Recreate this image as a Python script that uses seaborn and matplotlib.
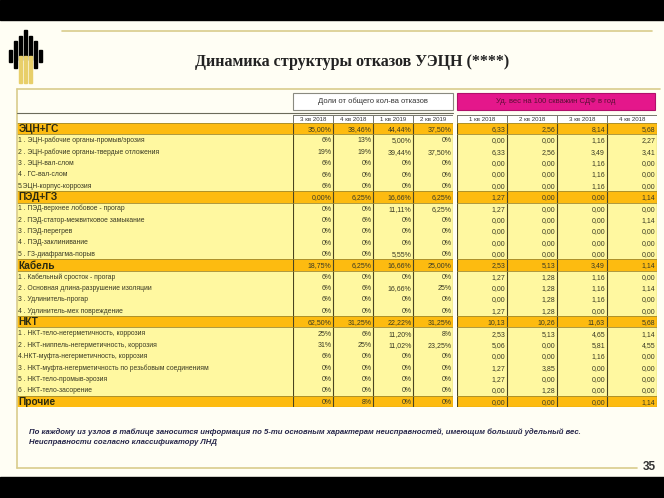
import numpy as np
import matplotlib.pyplot as plt
import seaborn as sns
from matplotlib.colors import ListedColormap
from matplotlib.patches import Rectangle

# --- table content ---
row_labels = [
    "ЭЦН+ГС",
    "1 . ЭЦН-рабочие органы-промыв/эрозия",
    "2 . ЭЦН-рабочие органы-твердые отложения",
    "3 . ЭЦН-вал-слом",
    "4 . ГС-вал-слом",
    "5.ЭЦН-корпус-коррозия",
    "ПЭД+ГЗ",
    "1 . ПЭД-верхнее лобовое - прогар",
    "2 . ПЭД-статор-межвитковое замыкание",
    "3 . ПЭД-перегрев",
    "4 . ПЭД-заклинивание",
    "5 . ГЗ-диафрагма-порыв",
    "Кабель",
    "1 . Кабельный сросток - прогар",
    "2 . Основная длина-разрушение изоляции",
    "3 . Удлинитель-прогар",
    "4 . Удлинитель-мех повреждение",
    "НКТ",
    "1 . НКТ-тело-негерметичность, коррозия",
    "2 . НКТ-ниппель-негерметичность, коррозия",
    "4.НКТ-муфта-негерметичность, коррозия",
    "3 . НКТ-муфта-негерметичность по резьбовым соединениям",
    "5 . НКТ-тело-промыв-эрозия",
    "6 . НКТ-тело-засорение",
    "Прочие",
]
# 1 = node (group) row, 0 = failure type row
row_kind = [1, 0, 0, 0, 0, 0, 1, 0, 0, 0, 0, 0, 1, 0, 0, 0, 0,
            1, 0, 0, 0, 0, 0, 0, 1]

share_quarters = ["3 кв 2018", "4 кв 2018", "1 кв 2019", "2 кв 2019"]
rate_quarters = ["1 кв 2018", "2 кв 2018", "3 кв 2018", "4 кв 2018"]

share_3q18 = ["35,00%", "6%", "19%", "6%", "6%", "6%",
              "0,00%", "0%", "0%", "0%", "0%", "0%",
              "18,75%", "6%", "6%", "6%", "0%",
              "62,50%", "25%", "31%", "6%", "0%", "0%", "0%", "0%"]
share_4q18 = ["38,46%", "13%", "19%", "0%", "0%", "0%",
              "6,25%", "0%", "6%", "0%", "0%", "0%",
              "6,25%", "0%", "6%", "0%", "0%",
              "31,25%", "6%", "25%", "0%", "0%", "0%", "0%", "8%"]
share_1q19 = ["44,44%", "5,00%", "39,44%", "0%", "0%", "0%",
              "16,66%", "11,11%", "0%", "0%", "0%", "5,55%",
              "16,66%", "0%", "16,66%", "0%", "0%",
              "22,22%", "11,20%", "11,02%", "0%", "0%", "0%", "0%", "0%"]
share_2q19 = ["37,50%", "0%", "37,50%", "0%", "0%", "0%",
              "6,25%", "6,25%", "0%", "0%", "0%", "0%",
              "25,00%", "0%", "25%", "0%", "0%",
              "31,25%", "8%", "23,25%", "0%", "0%", "0%", "0%", "0%"]

rate_1q18 = ["6,33", "0,00", "6,33", "0,00", "0,00", "0,00",
             "1,27", "1,27", "0,00", "0,00", "0,00", "0,00",
             "2,53", "1,27", "0,00", "0,00", "1,27",
             "10,13", "2,53", "5,06", "0,00", "1,27", "1,27", "0,00", "0,00"]
rate_2q18 = ["2,56", "0,00", "2,56", "0,00", "0,00", "0,00",
             "0,00", "0,00", "0,00", "0,00", "0,00", "0,00",
             "5,13", "1,28", "1,28", "1,28", "1,28",
             "10,26", "5,13", "0,00", "0,00", "3,85", "0,00", "1,28", "0,00"]
rate_3q18 = ["8,14", "1,16", "3,49", "1,16", "1,16", "1,16",
             "0,00", "0,00", "0,00", "0,00", "0,00", "0,00",
             "3,49", "1,16", "1,16", "1,16", "0,00",
             "11,63", "4,65", "5,81", "1,16", "0,00", "0,00", "0,00", "0,00"]
rate_4q18 = ["5,68", "2,27", "3,41", "0,00", "0,00", "0,00",
             "1,14", "0,00", "1,14", "0,00", "0,00", "0,00",
             "1,14", "0,00", "1,14", "0,00", "0,00",
             "5,68", "1,14", "4,55", "0,00", "0,00", "0,00", "0,00", "1,14"]

title = "Динамика структуры отказов УЭЦН (****)"
share_header = "Доли от общего кол-ва отказов"
rate_header = "Уд. вес на 100 скважин СДФ в год"
footnote = ("По каждому из узлов в таблице заносится информация по 5-ти основным "
            "характерам неисправностей, имеющим больший удельный вес.\n"
            "Неисправности согласно классификатору ЛНД")
page_no = "35"

# --- styling ---
W, H = 664, 498
cream = "#fffef4"
item_yellow = "#fff8a0"
group_orange = "#fdbb10"
tan = "#d9cc8c"
magenta = "#e4178b"
txt = "#3a3a24"
row_cmap = ListedColormap([item_yellow, group_orange])

sns.set_theme(style="white")
plt.rcParams["font.family"] = ["Liberation Sans", "DejaVu Sans"]

fig = plt.figure(figsize=(W / 100, H / 100), dpi=100, facecolor=cream)


def px_box(x0, y0, x1, y1):
    return [x0 / W, 1 - y1 / H, (x1 - x0) / W, (y1 - y0) / H]


def fx(x):
    return x / W


def fy(y):
    return 1 - y / H


# black letterbox bars
fig.patches.append(Rectangle((0, fy(20)), 1, 20 / H, transform=fig.transFigure,
                             color="black", zorder=-2))
fig.patches.append(Rectangle((0, 0), 1, (H - 477) / H, transform=fig.transFigure,
                             color="black", zorder=-2))

# title band line and frame
fig.add_artist(plt.Line2D([fx(62), fx(652)], [fy(31), fy(31)], color=tan, lw=1.2))
fig.add_artist(plt.Line2D([fx(17), fx(660)], [fy(89), fy(89)], color=tan, lw=1.2))
fig.add_artist(plt.Line2D([fx(17), fx(17)], [fy(89), fy(468)], color=tan, lw=1.2))
fig.add_artist(plt.Line2D([fx(17), fx(637)], [fy(468), fy(468)], color=tan, lw=1.2))
fig.add_artist(plt.Line2D([fx(17), fx(453)], [fy(113), fy(113)], color="#6b6b5a", lw=0.8))

# logo (simplified)
bar_x = [8.5, 13.5, 18.5, 23.5, 28.5, 33.5, 38.5]
bar_top = [50, 41, 36, 30, 36, 41, 50]
bar_bot = [62, 68, 60, 56, 60, 68, 62]
for bx, bt, bb in zip(bar_x, bar_top, bar_bot):
    fig.patches.append(Rectangle((fx(bx), fy(bb)), fx(3.6), (bb - bt) / H,
                                 transform=fig.transFigure, color="black"))
for bx in [18.5, 23.5, 28.5]:
    fig.patches.append(Rectangle((fx(bx), fy(83)), fx(3.6), (83 - 56) / H,
                                 transform=fig.transFigure, color="#e8cf6a"))

fig.text(fx(352), fy(62), title, ha="center", va="center", fontsize=11.5,
         fontweight="bold", family=["Liberation Serif"], color="#222222")

# group headers
fig.patches.append(Rectangle((fx(293), fy(110)), fx(160), 17 / H, transform=fig.transFigure,
                             facecolor="white", edgecolor="#8a8a80", lw=0.8))
fig.text(fx(373), fy(101.5), share_header, ha="center", va="center", fontsize=5.5, color="#333333")
fig.patches.append(Rectangle((fx(457), fy(110)), fx(198), 17 / H, transform=fig.transFigure,
                             facecolor=magenta, edgecolor="#b0106a", lw=0.8))
fig.text(fx(556), fy(101.5), rate_header, ha="center", va="center", fontsize=5.5, color="#5a1035")

kind = np.array(row_kind)
n_rows = len(row_labels)

# label column
ax_lab = fig.add_axes(px_box(17, 123, 293, 407))
sns.heatmap(kind.reshape(-1, 1), ax=ax_lab, cmap=row_cmap, vmin=0, vmax=1,
            cbar=False, xticklabels=False, yticklabels=False)
for i, (lab, k) in enumerate(zip(row_labels, row_kind)):
    if k:
        ax_lab.text(0.005, i + 0.55, lab, ha="left", va="center", fontsize=7.3,
                    fontweight="bold", color="#2a2a10")
        ax_lab.axhline(i, color="#a08a30", lw=0.6)
        ax_lab.axhline(i + 1, color="#a08a30", lw=0.6)
    else:
        ax_lab.text(0.003, i + 0.55, lab, ha="left", va="center", fontsize=4.9, color=txt)


def value_table(box, hdr_box, headers, columns):
    ax = fig.add_axes(px_box(*box))
    mat = np.repeat(kind.reshape(-1, 1), len(columns), axis=1)
    sns.heatmap(mat, ax=ax, cmap=row_cmap, vmin=0, vmax=1, cbar=False,
                xticklabels=False, yticklabels=False)
    for j, col in enumerate(columns):
        for i, v in enumerate(col):
            ax.text(j + 0.96, i + 0.58, v, ha="right", va="center", fontsize=5,
                    color=txt)
    for j in range(len(columns) + 1):
        ax.axvline(j, color="#4a4420", lw=0.8)
    for i, k in enumerate(row_kind):
        if k:
            ax.axhline(i, color="#a08a30", lw=0.6)
            ax.axhline(i + 1, color="#a08a30", lw=0.6)
    ax.axhline(n_rows, color="#6b5a10", lw=0.8)

    axh = fig.add_axes(px_box(*hdr_box))
    sns.heatmap(np.zeros((1, len(headers))), ax=axh, cmap=ListedColormap(["white"]),
                cbar=False, xticklabels=False, yticklabels=False,
                linewidths=0.6, linecolor="#7a7a70")
    for j, h in enumerate(headers):
        axh.text(j + 0.5, 0.55, h, ha="center", va="center", fontsize=4.4, color="#333333")
    return ax


value_table((293, 123, 453, 407), (293, 115, 453, 123), share_quarters,
            [share_3q18, share_4q18, share_1q19, share_2q19])
value_table((457, 123, 657, 407), (457, 115, 657, 123), rate_quarters,
            [rate_1q18, rate_2q18, rate_3q18, rate_4q18])

for ax in fig.axes:
    for s in ax.spines.values():
        s.set_visible(False)

fig.text(fx(29), fy(437), footnote, ha="left", va="center", fontsize=5.6,
         style="italic", fontweight="bold", color="#26264a", linespacing=1.45)
fig.text(fx(643), fy(467), page_no, ha="left", va="center", fontsize=8.5,
         fontweight="bold", color="#333333")

fig.savefig("out.png", dpi=100, facecolor=cream)
